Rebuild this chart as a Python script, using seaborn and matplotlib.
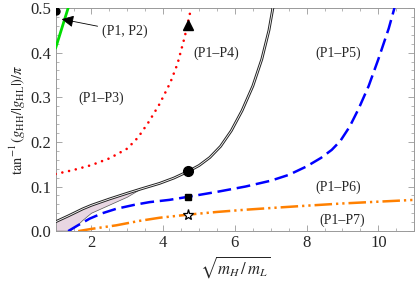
import matplotlib
matplotlib.use("Agg")
import matplotlib.pyplot as plt
from matplotlib.ticker import MultipleLocator
import numpy as np
import pandas as pd
import seaborn as sns

# Curves.
green_x = [1.0, 1.35]
green_y = [0.41, 0.50]

red_x = [1.0, 1.5, 2.0, 2.5, 3.0, 3.3, 3.6, 3.9, 4.2, 4.4, 4.6, 4.78]
red_y = [0.128, 0.137, 0.148, 0.163, 0.185, 0.21, 0.245, 0.285, 0.333,
         0.375, 0.435, 0.50]

bnd_x = [1.0, 1.35, 1.76, 2.0, 2.5, 3.0, 3.4, 3.9, 4.3, 4.7, 5.0, 5.3, 5.6,
         5.9, 6.2, 6.5, 6.75, 6.95, 7.06]
bnd_y = [0.021, 0.034, 0.05, 0.058, 0.072, 0.085, 0.095, 0.107, 0.119,
         0.134, 0.147, 0.165, 0.19, 0.225, 0.27, 0.325, 0.385, 0.45, 0.50]

low_x = [1.0, 1.4, 1.55, 1.76, 2.0, 2.5, 3.0, 3.4]
low_y = [0.0, 0.0, 0.008, 0.024, 0.04, 0.058, 0.076, 0.095]

blue_x = [1.35, 1.6, 1.95, 2.3, 2.69, 3.2, 3.62, 4.17, 4.7, 5.5, 6.3, 7.0,
          7.5, 8.0, 8.4, 8.7, 8.94, 9.2, 9.45, 9.73, 10.0, 10.29, 10.45]
blue_y = [0.0, 0.012, 0.028, 0.04, 0.05, 0.059, 0.065, 0.07, 0.077, 0.088,
          0.10, 0.113, 0.126, 0.145, 0.164, 0.182, 0.202, 0.234, 0.274,
          0.325, 0.385, 0.454, 0.50]

orange_x = [1.63, 2.0, 2.69, 3.34, 3.9, 4.7, 5.5, 6.3, 7.23, 8.0, 9.0,
            10.0, 11.0]
orange_y = [0.0, 0.005, 0.013, 0.023, 0.03, 0.037, 0.043, 0.048, 0.053,
            0.057, 0.062, 0.066, 0.070]

# Benchmark points.
pt_circle = (4.7, 0.134)
pt_square = (4.7, 0.077)
pt_star = (4.7, 0.036)
pt_triangle = (4.7, 0.462)
pt_dot = (1.01, 0.494)

region_labels = ["(P1–P3)", "(P1–P4)", "(P1–P5)", "(P1–P6)", "(P1–P7)"]
region_x = [2.26, 5.48, 8.87, 8.87, 8.98]
region_y = [0.298, 0.399, 0.399, 0.099, 0.025]

sns.set_style("ticks")
plt.rcParams['font.family'] = ['Liberation Serif', 'DejaVu Serif']
plt.rcParams['mathtext.fontset'] = 'stix'

fig = plt.figure(figsize=(4.15, 2.85), dpi=100)
ax = fig.add_axes([0.134, 0.189, 0.864, 0.783])

# Shaded lens region under the boundary curve.
ax.fill(np.r_[bnd_x[:7], low_x[::-1]], np.r_[bnd_y[:7], low_y[::-1]],
        color="#e8d6e2", ec="#555555", lw=0.5, zorder=1)

# Double line boundary: black under, white on top.
bnd = pd.DataFrame({"x": bnd_x, "y": bnd_y})
sns.lineplot(data=bnd, x="x", y="y", ax=ax, color="#222222", lw=2.0,
             sort=False, zorder=3)
sns.lineplot(data=bnd, x="x", y="y", ax=ax, color="white", lw=0.6,
             sort=False, zorder=3)

sns.lineplot(x=green_x, y=green_y, ax=ax, color="#00dd00", lw=2,
             sort=False, zorder=3)

line = sns.lineplot(x=red_x, y=red_y, ax=ax, color="red", lw=1.9,
                    sort=False, zorder=3).lines[-1]
line.set_dashes((0.01, 2.6))
line.set_dash_capstyle("round")

line = sns.lineplot(x=blue_x, y=blue_y, ax=ax, color="#0000ff", lw=1.8,
                    sort=False, zorder=3).lines[-1]
line.set_dashes((5.5, 2.3))

line = sns.lineplot(x=orange_x, y=orange_y, ax=ax, color="#ff8000", lw=1.8,
                    sort=False, zorder=3).lines[-1]
line.set_dashes((7, 1.6, 0.9, 1.6, 0.9, 1.6))

ax.plot(*pt_circle, "o", color="black", ms=7, zorder=5)
ax.plot(*pt_square, "s", color="black", ms=5, zorder=5)
ax.plot(*pt_star, "*", mfc="white", mec="black", mew=0.9, ms=8, zorder=5)
ax.plot(*pt_triangle, "^", color="black", ms=7, zorder=5)
ax.plot(*pt_dot, "o", color="black", ms=5, zorder=5)

for lab, x, y in zip(region_labels, region_x, region_y):
    ax.text(x, y, lab, ha="center", va="center", fontsize=10)

ax.annotate("(P1, P2)", xy=(1.17, 0.475), xytext=(2.3, 0.447),
            fontsize=10, va="center", ha="left",
            arrowprops=dict(arrowstyle="-|>", color="black", lw=0.6,
                            mutation_scale=18, shrinkA=1, shrinkB=0))

ax.set_xlim(1, 11)
ax.set_ylim(0, 0.5)
ax.xaxis.set_major_locator(MultipleLocator(2))
ax.xaxis.set_minor_locator(MultipleLocator(0.5))
ax.yaxis.set_major_locator(MultipleLocator(0.1))
ax.yaxis.set_minor_locator(MultipleLocator(0.02))
ax.set_yticks([0.0, 0.1, 0.2, 0.3, 0.4, 0.5])
ax.set_yticklabels(["0.0", "0.1", "0.2", "0.3", "0.4", "0.5"])
ax.tick_params(which="both", direction="in", top=True, right=True,
               color="#999999", labelsize=12, pad=3)
ax.tick_params(which="major", length=4, width=0.6)
ax.tick_params(which="minor", length=2.2, width=0.5)
for s in ax.spines.values():
    s.set_color("#999999")
    s.set_linewidth(0.7)

ax.set_xlabel(r"$\sqrt{m_H\,/\,m_L}$", fontsize=12, labelpad=2)
ax.set_ylabel(r"$\tan^{-1}(g_{\mathrm{HH}}/|g_{\mathrm{HL}}|)/\pi$",
              fontsize=10.5, labelpad=2)

fig.savefig("out.png", dpi=100)
